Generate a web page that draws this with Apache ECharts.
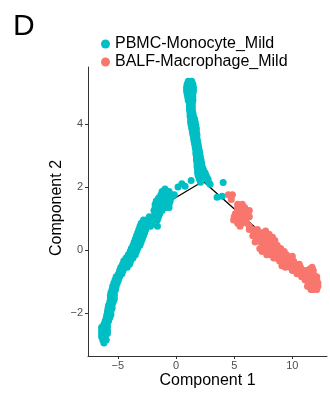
<!DOCTYPE html>
<html>
<head>
<meta charset="utf-8">
<script src="https://cdn.jsdelivr.net/npm/echarts@6.0.0/dist/echarts.min.js"></script>
<style>
  html, body { margin: 0; padding: 0; background: #fff; }
  #chart { width: 330px; height: 394px; }
</style>
</head>
<body>
<div id="chart"></div>
<script>
// Series names
const seriesNames = ['PBMC-Monocyte_Mild', 'BALF-Macrophage_Mild'];

// Tick labels
const xTicks = [-5, 0, 5, 10];
const yTicks = [-2, 0, 2, 4];

// PBMC cells (component 1, component 2)
const pbmcPoints = [
  // upper branch
  [1.05, 5.35], [1.35, 5.35],
  [0.95, 5.25], [1.25, 5.25], [1.45, 5.25],
  [0.9, 5.15], [1.2, 5.15], [1.5, 5.15],
  [0.9, 5.05], [1.2, 5.05], [1.5, 5.05],
  [0.95, 4.95], [1.2, 4.95], [1.45, 4.95],
  [1.0, 4.85], [1.25, 4.85], [1.45, 4.85],
  [1.05, 4.75], [1.3, 4.75], [1.45, 4.75],
  [1.15, 4.65], [1.4, 4.65],
  [1.15, 4.55], [1.4, 4.55],
  [1.15, 4.45], [1.4, 4.45],
  [1.2, 4.35], [1.45, 4.35],
  [1.2, 4.25], [1.5, 4.25],
  [1.25, 4.15], [1.6, 4.15],
  [1.25, 4.05], [1.45, 4.05], [1.65, 4.05],
  [1.3, 3.95], [1.5, 3.95], [1.7, 3.95],
  [1.35, 3.85], [1.55, 3.85], [1.75, 3.85],
  [1.4, 3.75], [1.75, 3.75],
  [1.45, 3.65], [1.8, 3.65],
  [1.5, 3.55], [1.8, 3.55],
  [1.55, 3.45], [1.85, 3.45],
  [1.6, 3.35], [1.9, 3.35],
  [1.65, 3.25], [1.95, 3.25],
  [1.7, 3.15], [2.0, 3.15],
  [1.7, 3.05], [2.05, 3.05],
  [1.75, 2.95], [2.1, 2.95],
  [1.75, 2.85], [2.15, 2.85],
  [1.8, 2.75], [2.2, 2.75],
  [1.8, 2.65], [2.25, 2.65],
  [1.85, 2.55], [2.1, 2.55], [2.35, 2.55],
  [1.85, 2.45], [2.2, 2.45], [2.5, 2.45],
  [1.9, 2.35], [2.25, 2.35], [2.6, 2.35],
  [2.0, 2.25], [2.4, 2.25], [2.75, 2.25],
  [1.3, 2.2], [2.1, 2.15], [2.8, 2.15],
  [2.93, 2.08], [4.05, 2.14], [3.53, 1.67], [3.96, 1.70],
  // left branch
  [0.17, 2.0], [0.78, 2.02], [0.5, 2.1], [-0.95, 1.93],
  [-1.2, 1.85], [-0.9, 1.85], [-0.6, 1.85],
  [-1.3, 1.75], [-1.0, 1.75], [-0.7, 1.75], [-0.4, 1.75], [-0.15, 1.75],
  [-1.5, 1.65], [-1.2, 1.65], [-0.9, 1.65], [-0.6, 1.65], [-0.3, 1.7],
  [-1.7, 1.55], [-1.4, 1.55], [-1.1, 1.55], [-0.8, 1.55], [-0.5, 1.55],
  [-1.8, 1.45], [-1.5, 1.45], [-1.2, 1.45], [-0.9, 1.45], [-0.6, 1.45],
  [-1.8, 1.35], [-1.5, 1.35], [-1.2, 1.35], [-0.9, 1.35], [-0.6, 1.35],
  [-1.9, 1.25], [-1.5, 1.25], [-1.2, 1.25],
  [-1.7, 1.15], [-1.4, 1.15],
  [-2.3, 1.05], [-2.0, 1.05], [-1.7, 1.05], [-1.5, 1.05],
  [-2.8, 0.95], [-2.5, 0.95], [-2.2, 0.95], [-1.9, 0.95], [-1.6, 0.95],
  [-3.0, 0.85], [-2.7, 0.85], [-2.4, 0.85], [-2.1, 0.85], [-1.6, 0.75],
  [-3.1, 0.75], [-2.8, 0.75], [-2.5, 0.75], [-2.2, 0.75],
  [-3.2, 0.65], [-2.9, 0.65], [-2.6, 0.65],
  [-3.3, 0.55], [-3.0, 0.55], [-2.7, 0.55],
  [-3.4, 0.45], [-3.1, 0.45], [-2.8, 0.45],
  [-3.5, 0.35], [-3.2, 0.35], [-2.9, 0.35],
  [-3.6, 0.25], [-3.3, 0.25], [-3.0, 0.25],
  [-3.7, 0.15], [-3.4, 0.15], [-3.1, 0.15],
  [-3.85, 0.05], [-3.55, 0.05], [-3.3, 0.05],
  [-3.95, -0.05], [-3.65, -0.05], [-3.4, -0.05],
  [-4.1, -0.15], [-3.8, -0.15], [-3.5, -0.15],
  [-4.3, -0.25], [-4.0, -0.25], [-3.7, -0.25],
  [-4.5, -0.35], [-4.2, -0.35], [-3.9, -0.35],
  [-4.6, -0.45], [-4.3, -0.45], [-4.0, -0.45],
  [-4.75, -0.55], [-4.45, -0.55], [-4.2, -0.55],
  [-4.85, -0.65], [-4.55, -0.65],
  [-4.95, -0.75], [-4.65, -0.75],
  [-5.15, -0.85], [-4.85, -0.85],
  [-5.25, -0.95], [-4.95, -0.95],
  [-5.35, -1.05], [-5.05, -1.05],
  [-5.45, -1.15], [-5.15, -1.15],
  [-5.5, -1.25], [-5.2, -1.25],
  [-5.6, -1.35], [-5.3, -1.35],
  [-5.65, -1.45], [-5.3, -1.45],
  [-5.65, -1.55], [-5.3, -1.55],
  [-5.7, -1.65], [-5.4, -1.65],
  [-5.8, -1.75], [-5.5, -1.75],
  [-5.85, -1.85], [-5.5, -1.85],
  [-5.9, -1.95], [-5.6, -1.95],
  [-5.95, -2.05], [-5.6, -2.05],
  [-6.0, -2.15], [-5.7, -2.15],
  [-6.1, -2.25], [-5.8, -2.25],
  [-6.2, -2.35], [-5.9, -2.35],
  [-6.4, -2.45], [-6.1, -2.45], [-5.9, -2.45],
  [-6.4, -2.55], [-6.1, -2.55], [-5.9, -2.55],
  [-6.4, -2.65], [-6.1, -2.65], [-5.9, -2.65],
  [-6.4, -2.75], [-6.1, -2.75],
  [-6.3, -2.85], [-6.0, -2.85],
  [-6.2, -2.95]
];

// BALF cells
const balfPoints = [
  [4.5, 1.75], [4.85, 1.75],
  [4.75, 1.6],
  [5.3, 1.45], [5.7, 1.45],
  [5.3, 1.35], [5.6, 1.35], [5.9, 1.35],
  [5.3, 1.25], [5.6, 1.25], [6.0, 1.25], [6.3, 1.25],
  [5.1, 1.15], [5.4, 1.15], [5.8, 1.15], [6.2, 1.15],
  [5.0, 1.05], [5.3, 1.05], [5.6, 1.05], [6.3, 1.05],
  [4.95, 0.95], [5.3, 0.95], [5.6, 0.95], [6.0, 0.95],
  [5.3, 0.85], [5.6, 0.85], [6.1, 0.85],
  [5.5, 0.75], [6.3, 0.75],
  [6.3, 0.65], [6.6, 0.65], [7.0, 0.65],
  [6.8, 0.55], [7.1, 0.55], [7.4, 0.55], [7.7, 0.6],
  [6.6, 0.45], [7.0, 0.45], [7.3, 0.45], [7.6, 0.45], [8.0, 0.5],
  [7.0, 0.35], [7.3, 0.35], [7.6, 0.35], [7.9, 0.35], [8.3, 0.4],
  [6.8, 0.25], [7.3, 0.25], [7.6, 0.25], [7.9, 0.25], [8.1, 0.25], [8.5, 0.3],
  [7.6, 0.15], [7.9, 0.15], [8.2, 0.15], [8.7, 0.15],
  [7.2, 0.05], [7.5, 0.05], [7.8, 0.05], [8.1, 0.05], [8.4, 0.05], [8.7, 0.05], [9.0, 0.05],
  [7.4, -0.05], [7.9, -0.05], [8.2, -0.05], [8.5, -0.05], [8.8, -0.05], [9.1, -0.05], [9.3, -0.05],
  [7.8, -0.15], [8.1, -0.15], [8.3, -0.15], [8.6, -0.15], [8.9, -0.15], [9.2, -0.15], [9.5, -0.15],
  [8.4, -0.25], [8.6, -0.25], [8.9, -0.25], [9.2, -0.25], [9.5, -0.25], [9.8, -0.25], [10.0, -0.2],
  [8.9, -0.35], [9.2, -0.35], [9.5, -0.35], [9.8, -0.35], [10.1, -0.35],
  [9.1, -0.5], [9.4, -0.45], [9.7, -0.45], [10.0, -0.45], [10.3, -0.45], [10.6, -0.45],
  [9.4, -0.55], [9.8, -0.55], [10.1, -0.55], [10.4, -0.55], [10.7, -0.55], [11.7, -0.55],
  [10.0, -0.65], [10.2, -0.65], [10.5, -0.65], [10.8, -0.65], [11.1, -0.65], [11.5, -0.6], [11.8, -0.65],
  [10.4, -0.75], [10.6, -0.75], [10.9, -0.75], [11.2, -0.75], [11.5, -0.75], [11.8, -0.75],
  [10.8, -0.85], [10.9, -0.85], [11.2, -0.85], [11.5, -0.85], [11.8, -0.85], [12.1, -0.85],
  [11.1, -0.95], [11.2, -0.95], [11.5, -0.95], [11.8, -0.95], [12.1, -0.95],
  [11.4, -1.05], [11.7, -1.05], [12.0, -1.05], [12.2, -1.05],
  [11.3, -1.15], [11.6, -1.15], [11.9, -1.15], [12.2, -1.15],
  [11.6, -1.25], [11.8, -1.25], [12.1, -1.25]
];

// Trajectory backbone
const treeLeft = [[-6.2, -2.6], [-5.5, -1.5], [-4.5, -0.5], [-3.2, 0.3], [-2.0, 1.0], [-0.26, 1.61], [2.33, 2.18]];
const treeTop = [[2.33, 2.18], [1.9, 3.2], [1.5, 4.1], [1.2, 5.1]];
const treeRight = [[2.33, 2.18], [6.98, 0.66], [8.71, 0.02], [10.7, -0.6], [12.0, -1.1]];

const colors = ['#00BFC4', '#F8766D'];

var chartDom = document.getElementById('chart');
var myChart = echarts.init(chartDom);
var option;

const axisText = { color: '#4D4D4D', fontSize: 11, fontFamily: 'Liberation Sans' };
const nameText = { color: '#000', fontSize: 16, fontFamily: 'Liberation Sans' };
const minus = (v) => v < 0 ? '\u2212' + Math.abs(v) : String(v);

const treeLine = (data) => ({
  type: 'line',
  data,
  symbol: 'none',
  silent: true,
  z: 1,
  lineStyle: { color: '#000', width: 1.3 }
});

option = {
  animation: false,
  title: {
    text: 'D',
    left: 8,
    top: 7,
    textStyle: { fontSize: 30, fontWeight: 'normal', color: '#000', fontFamily: 'Liberation Sans' }
  },
  legend: {
    data: seriesNames,
    orient: 'vertical',
    left: 101,
    top: 36,
    padding: 0,
    itemGap: 2,
    itemWidth: 9,
    itemHeight: 9,
    itemStyle: { opacity: 1 },
    icon: 'circle',
    textStyle: { fontSize: 16, color: '#000', fontFamily: 'Liberation Sans' }
  },
  grid: { left: 88, right: 3, top: 67, bottom: 37 },
  xAxis: {
    type: 'value',
    min: -7.57,
    max: 12.98,
    name: 'Component 1',
    nameLocation: 'middle',
    nameGap: 17,
    nameMoveOverlap: false,
    nameTextStyle: nameText,
    splitLine: { show: false },
    axisLine: { onZero: false, lineStyle: { color: '#333', width: 1 } },
    axisTick: { show: true, length: 3, customValues: xTicks, lineStyle: { color: '#333' } },
    axisLabel: { customValues: xTicks, margin: 4, formatter: minus, ...axisText }
  },
  yAxis: {
    type: 'value',
    min: -3.36,
    max: 5.8,
    name: 'Component 2',
    nameLocation: 'middle',
    nameGap: 23,
    nameMoveOverlap: false,
    nameTextStyle: { ...nameText, padding: [0, 0, 0, 7] },
    splitLine: { show: false },
    axisLine: { show: true, onZero: false, lineStyle: { color: '#333', width: 1 } },
    axisTick: { show: true, length: 3, customValues: yTicks, lineStyle: { color: '#333' } },
    axisLabel: { customValues: yTicks, margin: 5, formatter: minus, ...axisText }
  },
  series: [
    treeLine(treeLeft),
    treeLine(treeTop),
    treeLine(treeRight),
    {
      name: seriesNames[0],
      type: 'scatter',
      data: pbmcPoints,
      symbolSize: 7,
      z: 2,
      itemStyle: { color: colors[0], opacity: 1 }
    },
    {
      name: seriesNames[1],
      type: 'scatter',
      data: balfPoints,
      symbolSize: 7,
      z: 2,
      itemStyle: { color: colors[1], opacity: 1 }
    }
  ]
};

option && myChart.setOption(option);
</script>
</body>
</html>
